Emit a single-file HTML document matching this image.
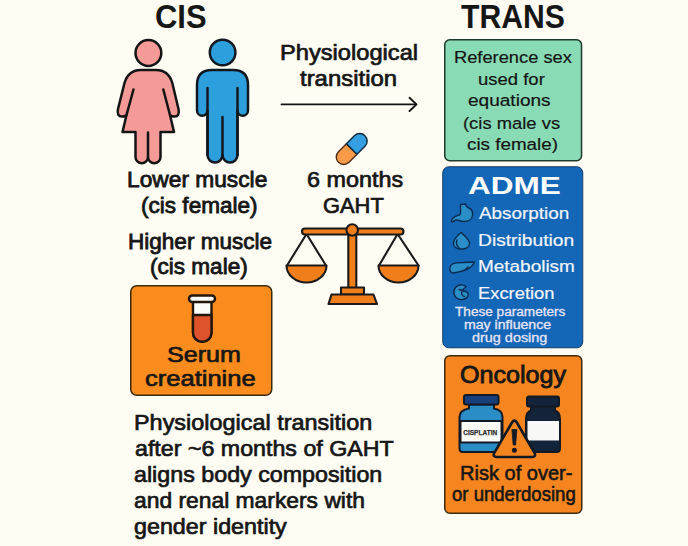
<!DOCTYPE html>
<html><head><meta charset="utf-8"><style>
html,body{margin:0;padding:0;}
body{width:688px;height:546px;overflow:hidden;background:#fefcf3;position:relative;font-family:"Liberation Sans",sans-serif;}
.t{position:absolute;white-space:nowrap;transform-origin:0 50%;}
svg{position:absolute;left:0;top:0;}
</style></head><body>
<svg width="688" height="546" viewBox="0 0 688 546">
<g stroke-linejoin="round" stroke-linecap="round">
<!-- female -->
<g fill="#f49a97" stroke="#141414" stroke-width="2.5">
<circle cx="148.4" cy="53" r="12.9"/>
<path d="M141,70 L156,70 Q168.5,70 172.3,83 L178.5,109 Q180,116.5 174.5,116.5 Q171,116.5 170,115 L174,132 L160.5,132 L160.5,157 A6.25,6.25 0 0 1 148,157 A6.25,6.25 0 0 1 135.5,157 L135.5,132 L122.5,132 L126.5,115 Q125.5,116.5 122,116.5 Q116.5,116.5 118,109 L124.5,83 Q128.3,70 141,70 Z"/>
<path fill="none" d="M133.5,89.5 L126.5,115 M163.3,89.5 L170,115 M148,132.5 L148,157"/>
</g>
<!-- male -->
<g fill="#2c9fdc" stroke="#121820" stroke-width="2.5">
<circle cx="222.6" cy="52.5" r="12.8"/>
<path d="M197,85 Q197,70 212,70 L233,70 Q248,70 248,85 L248,110.5 A5.25,5.25 0 0 1 237.5,110.5 L237.5,155 A7.5,7.5 0 0 1 222.5,155 A7.5,7.5 0 0 1 207.5,155 L207.5,110.5 A5.25,5.25 0 0 1 197,110.5 Z"/>
<path fill="none" d="M207.5,88 L207.5,155 M237.5,88 L237.5,155 M222.5,117 L222.5,155"/>
</g>
<!-- arrow -->
<line x1="281.5" y1="104.4" x2="416" y2="104.4" stroke="#141414" stroke-width="1.9"/>
<polyline points="409.5,97.8 416.5,104.4 409.5,111" fill="none" stroke="#141414" stroke-width="1.9"/>
<!-- pill -->
<g transform="translate(351.7,149) rotate(-45)" stroke="#2a2a2a" stroke-width="1.4">
<path d="M0,-7.5 L-11.25,-7.5 A7.5,7.5 0 0 0 -11.25,7.5 L0,7.5 Z" fill="#f89a48" stroke="#4a2e1a"/>
<path d="M0,-7.5 L11.25,-7.5 A7.5,7.5 0 0 1 11.25,7.5 L0,7.5 Z" fill="#34a0e2" stroke="#102838"/>
</g>
<!-- scale -->
<g stroke="#1a1a1a" stroke-width="2.1" fill="#f07e1b">
<path fill="none" d="M306.5,234 L287,265.5 M306.5,234 L326,265.5 M397.6,234 L379,265.5 M397.6,234 L418.5,265.5"/>
<path d="M286.5,265.5 L326.5,265.5 A20,17 0 0 1 286.5,265.5 Z"/>
<path d="M378.5,265.5 L418.5,265.5 A20,17 0 0 1 378.5,265.5 Z"/>
<rect x="348.3" y="232" width="8" height="56" />
<rect x="302" y="228.5" width="101.5" height="6" rx="3"/>
<circle cx="352.2" cy="230" r="5.8"/>
<path d="M341,287.5 L364,287.5 L364,294.5 L341,294.5 Z"/>
<path d="M331.5,294.5 L373.5,294.5 L377,304 L328.5,304 Z"/>
</g>
</g>
<!-- serum box -->
<rect x="130.75" y="285.75" width="141" height="109.5" rx="6" fill="#fa8c1d" stroke="#3a2a10" stroke-width="1.5"/>
<g stroke="#22160c" stroke-width="2.4" stroke-linejoin="round">
<path d="M193,301.5 L193,332.5 A9.25,9.25 0 0 0 211.5,332.5 L211.5,301.5 Z" fill="#fbfbf8"/>
<path d="M193,315 L211.5,315 L211.5,332.5 A9.25,9.25 0 0 1 193,332.5 Z" fill="#de532c"/>
<rect x="189" y="295.5" width="26" height="6.5" rx="3.25" fill="#fbfbf8"/>
</g>
<!-- green box -->
<rect x="444.75" y="39.75" width="136.8" height="121" rx="5" fill="#88dbb4" stroke="#1f3a2c" stroke-width="1.5"/>
<!-- blue box -->
<rect x="442.75" y="166.75" width="140" height="181" rx="6" fill="#1367b6" stroke="#123a66" stroke-width="1"/>
<g fill="#2a8fc6" stroke="#0b2a50" stroke-width="1.4" stroke-linejoin="round" stroke-linecap="round">
<path d="M460.5,204.5 L465.5,204 C466,206 466.5,207 468,207.5 C471.5,209 473,212.5 472.5,215.5 C472,219.5 468,221.5 464,221.5 C460,221.5 458,219.5 456,220 C454,220.5 453.5,222 452,222 C451,221.5 451.5,219.5 453,218 C455,216 458,215.5 460,214.5 C461,213 460.5,211 460.5,209 Z"/>
<path d="M461,232.5 C464,235 469.5,239.5 469.5,243.5 C469.5,247 466,249 461.5,249 C457,249 453.5,247 453.5,243.5 C453.5,239.5 458,235 461,232.5 Z"/>
<path fill="none" d="M457,240 C456,243 456.5,246 459,247.5"/>
<path d="M451,272 C449,270 449.5,266 452.5,264 C455,262.5 459,262.5 463,262.5 L474.5,262 C473,265.5 470,268 466.5,269.5 C462,271.5 457,272.5 453.5,273 C452.5,273 451.5,272.8 451,272 Z"/>
<path fill="none" d="M465.5,269.5 L468,267"/>
<path d="M466,286.5 C463,284 458,284.5 455.5,287.5 C453,290.5 453.5,295.5 456.5,298 C459.5,300.5 464.5,300 467,297.5 C469,295.5 468.5,292.5 466,291.5 C464.5,291 463,291.5 462,290.5 C462.5,289 465,288.5 466,286.5 Z"/>
<path fill="none" d="M462,290.5 L459,289.5 M462,291.5 C461,294 462,296 464.5,296.5"/>
</g>
<!-- oncology box -->
<rect x="444.75" y="355.75" width="137" height="157.5" rx="5" fill="#f6851f" stroke="#3a2a10" stroke-width="1.5"/>
<g stroke="#121a26" stroke-width="2" stroke-linejoin="round">
<!-- left bottle -->
<path d="M469,404.5 L494,404.5 L494,408.5 Q502.5,410 502.5,417 L502.5,448.5 Q502.5,452 499,452 L463,452 Q459.5,452 459.5,448.5 L459.5,417 Q459.5,410 469,408.5 Z" fill="#2b8dc6"/>
<rect x="460.5" y="421" width="41" height="21.5" fill="#fbfbf8"/>
<rect x="464" y="395" width="34.5" height="9.5" rx="2" fill="#183f7c"/>
<!-- right bottle -->
<path d="M531,406.5 L555,406.5 L555,410.5 Q560,412 560,419 L560,448.5 Q560,452 556.5,452 L529.5,452 Q526,452 526,448.5 L526,419 Q526,412 531,410.5 Z" fill="#13233a"/>
<rect x="527.5" y="421" width="31.5" height="19.5" fill="#f8f8f6" stroke="none"/>
<rect x="527" y="396.5" width="32" height="10" rx="2" fill="#13233a"/>
<!-- warning -->
<path d="M512,422.5 Q514.4,418.8 516.8,422.5 L534.5,452.8 Q536.5,457 532,457 L496.8,457 Q492.3,457 494.3,452.8 Z" fill="#f5861f" stroke-width="2.6"/>
</g>
<path d="M511.9,429.5 L516.9,429.5 L515.6,445 L513.2,445 Z" fill="#121a26" stroke="#121a26" stroke-width="0.8" stroke-linejoin="round"/>
<circle cx="514.4" cy="450.3" r="2.5" fill="#121a26"/>
<text x="480.2" y="435.3" font-family="Liberation Sans" font-weight="700" font-size="7" fill="#2e2e2e" stroke="#2e2e2e" stroke-width="0.25" text-anchor="middle" textLength="34" lengthAdjust="spacingAndGlyphs">CISPLATIN</text>
</svg>

<div class="t" style="left:154.76px;top:-3.90px;font-size:32.5px;line-height:42.25px;font-weight:700;color:#161616;transform:scaleX(0.9519);">CIS</div>
<div class="t" style="left:461.14px;top:-4.10px;font-size:32.5px;line-height:42.25px;font-weight:700;color:#161616;transform:scaleX(0.9273);">TRANS</div>
<div class="t" style="left:279.93px;top:40.22px;font-size:21.4px;line-height:27.82px;font-weight:400;color:#161616;-webkit-text-stroke:0.7px #161616;transform:scaleX(1.1057);">Physiological</div>
<div class="t" style="left:299.66px;top:65.61px;font-size:21.4px;line-height:27.82px;font-weight:400;color:#161616;-webkit-text-stroke:0.7px #161616;transform:scaleX(1.1186);">transition</div>
<div class="t" style="left:306.67px;top:167.22px;font-size:21.4px;line-height:27.82px;font-weight:400;color:#161616;-webkit-text-stroke:0.7px #161616;transform:scaleX(1.0920);">6 months</div>
<div class="t" style="left:323.28px;top:193.00px;font-size:21.4px;line-height:27.82px;font-weight:400;color:#161616;-webkit-text-stroke:0.7px #161616;transform:scaleX(1.0224);">GAHT</div>
<div class="t" style="left:127.21px;top:167.21px;font-size:21.5px;line-height:27.95px;font-weight:400;color:#161616;-webkit-text-stroke:0.8px #161616;transform:scaleX(1.0580);">Lower muscle</div>
<div class="t" style="left:141.25px;top:192.51px;font-size:21.5px;line-height:27.95px;font-weight:400;color:#161616;-webkit-text-stroke:0.8px #161616;transform:scaleX(1.0495);">(cis female)</div>
<div class="t" style="left:127.84px;top:229.41px;font-size:21.5px;line-height:27.95px;font-weight:400;color:#161616;-webkit-text-stroke:0.8px #161616;transform:scaleX(1.0485);">Higher muscle</div>
<div class="t" style="left:150.25px;top:253.82px;font-size:21.5px;line-height:27.95px;font-weight:400;color:#161616;-webkit-text-stroke:0.8px #161616;transform:scaleX(1.0484);">(cis male)</div>
<div class="t" style="left:166.80px;top:341.21px;font-size:22px;line-height:28.6px;font-weight:400;color:#161616;-webkit-text-stroke:0.7px #161616;transform:scaleX(1.1381);">Serum</div>
<div class="t" style="left:145.22px;top:364.61px;font-size:22px;line-height:28.6px;font-weight:400;color:#161616;-webkit-text-stroke:0.7px #161616;transform:scaleX(1.1600);">creatinine</div>
<div class="t" style="left:133.58px;top:409.00px;font-size:22px;line-height:28.6px;font-weight:400;color:#161616;-webkit-text-stroke:0.7px #161616;transform:scaleX(1.0643);">Physiological transition</div>
<div class="t" style="left:134.66px;top:435.00px;font-size:22px;line-height:28.6px;font-weight:400;color:#161616;-webkit-text-stroke:0.7px #161616;transform:scaleX(1.0553);">after ~6 months of GAHT</div>
<div class="t" style="left:134.24px;top:461.00px;font-size:22px;line-height:28.6px;font-weight:400;color:#161616;-webkit-text-stroke:0.7px #161616;transform:scaleX(1.0575);">aligns body composition</div>
<div class="t" style="left:134.26px;top:487.00px;font-size:22px;line-height:28.6px;font-weight:400;color:#161616;-webkit-text-stroke:0.7px #161616;transform:scaleX(1.0380);">and renal markers with</div>
<div class="t" style="left:134.24px;top:513.00px;font-size:22px;line-height:28.6px;font-weight:400;color:#161616;-webkit-text-stroke:0.7px #161616;transform:scaleX(1.0583);">gender identity</div>
<div class="t" style="left:453.79px;top:45.81px;font-size:17.2px;line-height:22.36px;font-weight:400;color:#141414;-webkit-text-stroke:0.2px #141414;transform:scaleX(1.0633);">Reference sex</div>
<div class="t" style="left:477.60px;top:67.50px;font-size:17.2px;line-height:22.36px;font-weight:400;color:#141414;-webkit-text-stroke:0.2px #141414;transform:scaleX(1.0754);">used for</div>
<div class="t" style="left:468.25px;top:89.32px;font-size:17.2px;line-height:22.36px;font-weight:400;color:#141414;-webkit-text-stroke:0.2px #141414;transform:scaleX(1.1081);">equations</div>
<div class="t" style="left:463.47px;top:111.51px;font-size:17.2px;line-height:22.36px;font-weight:400;color:#141414;-webkit-text-stroke:0.2px #141414;transform:scaleX(1.0700);">(cis male vs</div>
<div class="t" style="left:467.20px;top:133.31px;font-size:17.2px;line-height:22.36px;font-weight:400;color:#141414;-webkit-text-stroke:0.2px #141414;transform:scaleX(1.0951);">cis female)</div>
<div class="t" style="left:468.33px;top:169.70px;font-size:24.5px;line-height:31.85px;font-weight:700;color:#ffffff;transform:scaleX(1.2857);">ADME</div>
<div class="t" style="left:478.74px;top:204.40px;font-size:16px;line-height:20.8px;font-weight:400;color:#f2f4fa;-webkit-text-stroke:0.2px #f2f4fa;transform:scaleX(1.1789);">Absorption</div>
<div class="t" style="left:477.66px;top:230.81px;font-size:16px;line-height:20.8px;font-weight:400;color:#f2f4fa;-webkit-text-stroke:0.2px #f2f4fa;transform:scaleX(1.2013);">Distribution</div>
<div class="t" style="left:477.68px;top:257.40px;font-size:16px;line-height:20.8px;font-weight:400;color:#f2f4fa;-webkit-text-stroke:0.2px #f2f4fa;transform:scaleX(1.1838);">Metabolism</div>
<div class="t" style="left:477.72px;top:284.10px;font-size:16px;line-height:20.8px;font-weight:400;color:#f2f4fa;-webkit-text-stroke:0.2px #f2f4fa;transform:scaleX(1.1477);">Excretion</div>
<div class="t" style="left:454.94px;top:305.21px;font-size:12px;line-height:15.6px;font-weight:400;color:#e6e4f6;-webkit-text-stroke:0.3px #e6e4f6;transform:scaleX(1.1337);">These parameters</div>
<div class="t" style="left:464.34px;top:317.81px;font-size:12px;line-height:15.6px;font-weight:400;color:#e6e4f6;-webkit-text-stroke:0.3px #e6e4f6;transform:scaleX(1.1767);">may influence</div>
<div class="t" style="left:471.76px;top:330.51px;font-size:12px;line-height:15.6px;font-weight:400;color:#e6e4f6;-webkit-text-stroke:0.3px #e6e4f6;transform:scaleX(1.2016);">drug dosing</div>
<div class="t" style="left:460.23px;top:360.11px;font-size:23.5px;line-height:30.55px;font-weight:400;color:#161616;-webkit-text-stroke:0.8px #161616;transform:scaleX(1.0687);">Oncology</div>
<div class="t" style="left:459.73px;top:459.82px;font-size:20.5px;line-height:26.65px;font-weight:400;color:#161616;-webkit-text-stroke:0.6px #161616;transform:scaleX(0.9770);">Risk of over-</div>
<div class="t" style="left:452.21px;top:480.81px;font-size:20.5px;line-height:26.65px;font-weight:400;color:#161616;-webkit-text-stroke:0.6px #161616;transform:scaleX(0.9044);">or underdosing</div>
</body></html>
